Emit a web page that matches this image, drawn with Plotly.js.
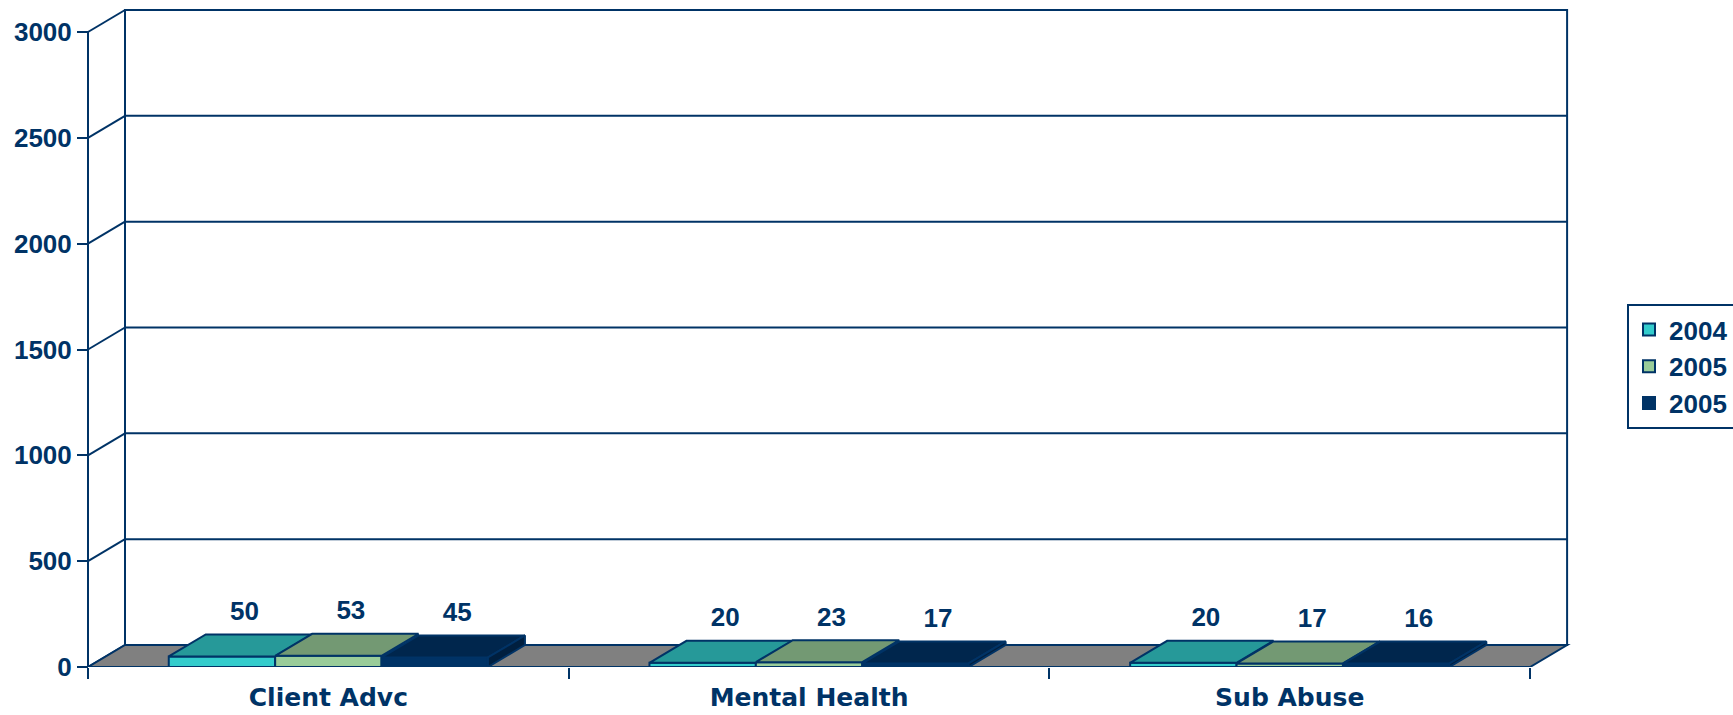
<!DOCTYPE html>
<html><head><meta charset="utf-8">
<script src="https://cdn.plot.ly/plotly-3.0.1.min.js"></script>
<style>html,body{margin:0;padding:0;background:#fff;}#chart{width:1733px;height:715px;}</style>
</head><body><div id="chart"></div>
<script>
// ---- data ----
const categories = ['Client Advc', 'Mental Health', 'Sub Abuse'];
const seriesNames = ['2004', '2005', '2005'];
const values2004 = [50, 20, 20];
const values2005a = [53, 23, 17];
const values2005b = [45, 17, 16];
const yTicks = [0, 500, 1000, 1500, 2000, 2500, 3000];

// ---- styles ----
const series = [values2004, values2005a, values2005b];
const frontColors = ['#33CCCC', '#99CC99', '#003366'];
const topColors = ['#269999', '#739973', '#00264D'];
const sideColor = '#001F3F';
const NAVY = '#003366';
const FONT = 'Liberation Sans, Arial, sans-serif';
const WIDEFONT = 'DejaVu Sans, Verdana, sans-serif';

// ---- geometry ----
const W = 1733, H = 715;
const ml = 80, mr = 160, mt = 8, mb = 48;
const pw = W - ml - mr, ph = H - mt - mb;
const pxPerCat = 480.7;
const xmin = -0.5 - 8 / pxPerCat;
const xmax = xmin + pw / pxPerCat;
const pxPerUnit = 635 / 3000;
const ymax = ph / pxPerUnit;
const DX = 37 / pxPerCat, DY = 22 / pxPerUnit;
const labelPad = 8 / pxPerUnit;
const labelShift = 4 / pxPerCat;
const nCat = categories.length, nSer = series.length;
const bargap = 0.336;
const barW = (1 - bargap) / nSer;
const yTop = yTicks[yTicks.length - 1];
const xL = -0.5, xR = nCat - 0.5;

// ---- frame shapes ----
const shapes = [];
const ln = {color: NAVY, width: 2};
shapes.push({type: 'rect', xref: 'x', yref: 'y', x0: xL + DX, x1: xR + DX, y0: DY, y1: yTop + DY, line: ln, fillcolor: '#FFFFFF', layer: 'below'});
yTicks.forEach(v => {
  if (v > 0) shapes.push({type: 'line', xref: 'x', yref: 'y', x0: xL + DX, x1: xR + DX, y0: v + DY, y1: v + DY, line: ln, layer: 'below'});
  shapes.push({type: 'line', xref: 'x', yref: 'y', x0: xL, x1: xL + DX, y0: v, y1: v + DY, line: ln, layer: 'below'});
});
shapes.push({type: 'line', xref: 'x', yref: 'y', x0: xL, x1: xL, y0: 0, y1: yTop, line: ln, layer: 'below'});
shapes.push({type: 'path', xref: 'x', yref: 'y',
  path: `M ${xL},0 L ${xR},0 L ${xR + DX},${DY} L ${xL + DX},${DY} Z`,
  fillcolor: '#808080', line: ln, layer: 'below'});

// ---- traces ----
const traces = [];
series.forEach((vals, s) => {
  traces.push({
    type: 'bar', x: categories.map((c, i) => i), y: vals, name: seriesNames[s],
    legendgroup: 'g' + s,
    marker: {color: frontColors[s], line: {color: NAVY, width: 2}},
    hoverinfo: 'skip'
  });
});
// top faces & side faces
series.forEach((vals, s) => {
  vals.forEach((v, i) => {
    const xl = i - (1 - bargap) / 2 + s * barW, xr = xl + barW;
    traces.push({
      type: 'scatter', mode: 'lines', x: [xl, xr, xr + DX, xl + DX, xl], y: [v, v, v + DY, v + DY, v],
      fill: 'toself', fillcolor: topColors[s], line: {color: NAVY, width: 2}, showlegend: false, hoverinfo: 'skip'
    });
    if (s === nSer - 1) {
      traces.push({
        type: 'scatter', mode: 'lines', x: [xr, xr, xr + DX, xr + DX, xr], y: [0, v, v + DY, DY, 0],
        fill: 'toself', fillcolor: sideColor, line: {color: NAVY, width: 2}, showlegend: false, hoverinfo: 'skip'
      });
    }
  });
});
// data labels
series.forEach((vals, s) => {
  traces.push({
    type: 'scatter', mode: 'text',
    x: vals.map((v, i) => i - (1 - bargap) / 2 + (s + 0.5) * barW + DX / 2 + labelShift),
    y: vals.map(v => v + DY + labelPad),
    text: vals.map(String), textposition: 'top center', cliponaxis: false,
    textfont: {family: FONT, size: 26, color: NAVY, weight: 'bold'},
    showlegend: false, hoverinfo: 'skip'
  });
});
// category boundary ticks axis
traces.push({type: 'scatter', x: [], y: [], xaxis: 'x2', showlegend: false, hoverinfo: 'skip'});

const boundaries = [];
for (let k = 0; k <= nCat; k++) boundaries.push(k - 0.5);

const layout = {
  width: W, height: H,
  margin: {l: ml, r: mr, t: mt, b: mb, autoexpand: false},
  paper_bgcolor: '#FFFFFF', plot_bgcolor: 'rgba(0,0,0,0)',
  barmode: 'group', bargap: bargap, bargroupgap: 0,
  showlegend: true,
  legend: {
    x: (1627 - ml) / pw, y: (H - mb - 304) / ph, xanchor: 'left', yanchor: 'top',
    bordercolor: NAVY, borderwidth: 2, bgcolor: '#FFFFFF',
    font: {family: FONT, size: 26, color: NAVY, weight: 'bold'},
    tracegroupgap: 12, traceorder: 'normal'
  },
  xaxis: {
    range: [xmin, xmax], tickvals: categories.map((c, i) => i), ticktext: categories,
    ticks: '', showgrid: false, zeroline: false, showline: false,
    tickfont: {family: WIDEFONT, size: 25, color: NAVY, weight: 'bold'},
    ticklabelstandoff: 13
  },
  xaxis2: {
    range: [xmin, xmax], overlaying: 'x', anchor: 'y', side: 'bottom',
    tickvals: boundaries, ticks: 'outside', ticklen: 11, tickwidth: 2, tickcolor: NAVY,
    showticklabels: false, showgrid: false, zeroline: false, showline: false
  },
  yaxis: {
    range: [0, ymax], tickvals: yTicks, ticktext: yTicks.map(String),
    ticks: 'outside', ticklen: 11, tickwidth: 2, tickcolor: NAVY,
    showgrid: false, zeroline: false, showline: false,
    anchor: 'free', position: 8 / pw,
    tickfont: {family: FONT, size: 26, color: NAVY, weight: 'bold'}
  },
  shapes: shapes
};

Plotly.newPlot('chart', traces, layout, {displayModeBar: false, staticPlot: true});
</script>
</body></html>
